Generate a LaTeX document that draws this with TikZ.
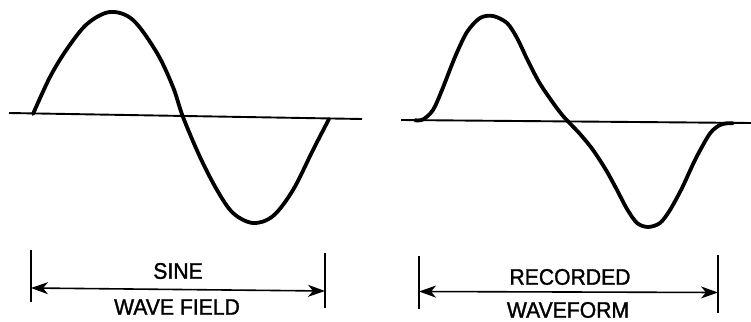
\documentclass[tikz,border=0pt]{standalone}
\usepackage{fontspec}
\newfontfamily\lblfont{Liberation Sans}[FakeBold=1.4,FakeStretch=0.94]
\usetikzlibrary{arrows.meta}
\begin{document}
\begin{tikzpicture}[x=1pt,y=-1pt,
  wave/.style={line width=3.8pt, line join=round, line cap=round},
  axisline/.style={line width=1.9pt},
  tickline/.style={line width=2.2pt},
  dimline/.style={line width=1.6pt, {Stealth[length=17pt,width=12pt,inset=5pt]}-{Stealth[length=17pt,width=12pt,inset=5pt]}},
  lbl/.style={font=\lblfont\fontsize{22.5}{24}\selectfont, inner sep=0pt}]
\useasboundingbox (0,0) rectangle (751,321);
% left panel
\coordinate (a1s) at (9,113);
\coordinate (a1e) at (362,119);
\draw[axisline] (a1s) -- (a1e);
\draw[wave] plot[smooth, tension=0.55] coordinates {(33,114) (50,77) (67,49) (87,24) (110,12) (133,20) (157,53) (173,87) (183,117) (200,157) (217,190) (233,213) (253,223) (273,216) (293,190) (313,150) (329,119)};
\coordinate (t1a) at (31,250); \coordinate (t1b) at (31,302);
\coordinate (t2a) at (325,253); \coordinate (t2b) at (325,308);
\draw[tickline] (t1a) -- (t1b);
\draw[tickline] (t2a) -- (t2b);
\coordinate (d1a) at (31,288); \coordinate (d1b) at (325,291);
\draw[dimline] (d1a) -- (d1b);
\node[lbl] (sine) at (178,271) {SINE};
\node[lbl] (wfield) at (177,307) {WAVE FIELD};
% right panel
\coordinate (a2s) at (401,120);
\coordinate (a2e) at (751,123);
\draw[axisline] (a2s) -- (a2e);
\draw[wave] plot[smooth, tension=0.5] coordinates {(415,120.3) (423,119.5) (433,110) (442,90) (455,57) (467,32) (480,18) (493,16) (507,23) (517,38) (528,61) (539,82) (551,100) (563,116) (580,134) (593,150) (606,170) (617,190) (627,209) (637,223) (648,227) (660,223) (670,210) (682,188) (695,160) (707,138) (713,130) (720,125) (727,123.3) (733,123.3)};
\coordinate (t3a) at (419,256); \coordinate (t3b) at (419,309);
\coordinate (t4a) at (718,255); \coordinate (t4b) at (718,313);
\draw[tickline] (t3a) -- (t3b);
\draw[tickline] (t4a) -- (t4b);
\coordinate (d2a) at (419,291.5); \coordinate (d2b) at (718,292.5);
\draw[dimline] (d2a) -- (d2b);
\node[lbl] (rec) at (570,277) {RECORDED};
\node[lbl] (wform) at (568,310) {WAVEFORM};
\end{tikzpicture}
\end{document}
